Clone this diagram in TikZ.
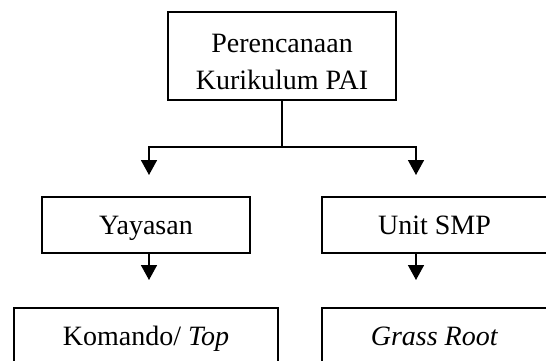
\documentclass[tikz,border=0pt]{standalone}
\usepackage{fontspec}
\setmainfont{Liberation Serif}
\usetikzlibrary{arrows.meta}
\tikzset{
    kotak/.style={draw, line width=1.2pt, inner sep=0pt, align=center,
        text height=19pt, text depth=0pt,
        font=\fontsize{28}{37}\selectfont},
    tulisan/.style={inner sep=0pt, align=center, font=\fontsize{28}{37}\selectfont},
    panah/.style={line width=1.6pt, -{Triangle[width=16pt,length=15pt]}}
}
\begin{document}
\begin{tikzpicture}[x=1pt,y=-1pt]
            \clip (0,0) rectangle (546,360);
            \fill[white] (0,0) rectangle (546,360);
            \node[kotak, minimum width=228pt, minimum height=88pt] (perencanaan) at (282,56) {};
            \node[tulisan] (judul) at ([yshift=-6pt]perencanaan.center) {Perencanaan\\Kurikulum PAI};
            \node[kotak, minimum width=208pt, minimum height=56pt] (yayasan) at (146,225) {Yayasan};
            \node[kotak, minimum width=225pt, minimum height=56pt] (unit) at (434.5,225) {Unit SMP};
            \node[kotak, minimum width=264pt, minimum height=56pt] (komando) at (146,336) {Komando/ \textit{Top}};
            \node[kotak, minimum width=225pt, minimum height=56pt] (grass) at (434.5,336) {\textit{Grass Root}};
            \coordinate (cabang) at (282,147);
            \coordinate (kiri) at (149,175);
            \coordinate (kanan) at (416,175);
            \coordinate (kiri2) at (149,280);
            \coordinate (kanan2) at (416,280);
            \draw[line width=1.6pt] (perencanaan.south) -- (cabang);
            \draw[panah] (cabang) -| (kiri);
            \draw[panah] (cabang) -| (kanan);
            \draw[panah] (yayasan.south -| kiri) -- (kiri2);
            \draw[panah] (unit.south -| kanan) -- (kanan2);
        \end{tikzpicture}
\end{document}
